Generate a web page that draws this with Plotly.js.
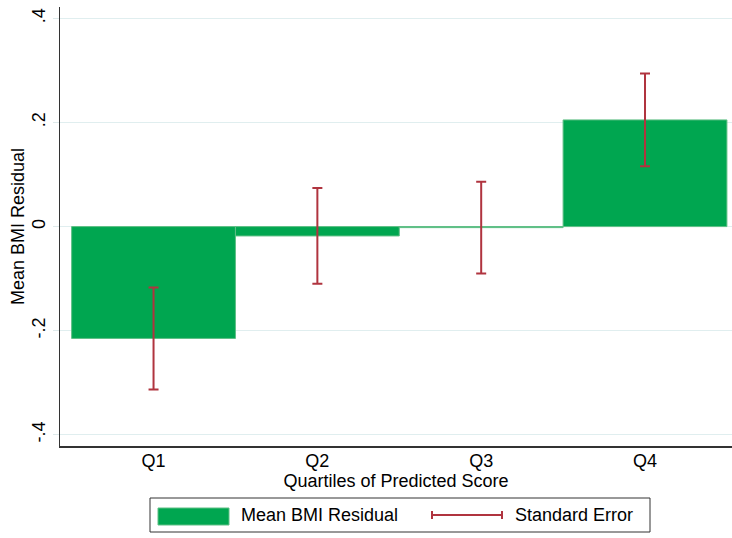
<!DOCTYPE html>
<html>
<head>
<meta charset="utf-8">
<script src="https://cdn.plot.ly/plotly-3.0.1.min.js"></script>
<style>html,body{margin:0;padding:0;background:#fff;}#chart{width:732px;height:538px;}</style>
</head>
<body>
<div id="chart"></div>
<script>
// Data
const categories = [1, 2, 3, 4];
const categoryLabels = ["Q1", "Q2", "Q3", "Q4"];
const meanResidual = [-0.215, -0.018, -0.002, 0.205];
const standardError = [0.098, 0.092, 0.088, 0.089];
const yTickValues = [-0.4, -0.2, 0, 0.2, 0.4];
const yTickLabels = ["-.4", "-.2", "0", ".2", ".4"];

const FONT = "Liberation Sans, Arial, sans-serif";
const FS = 18;
const GREEN = "#00a650";
const RED = "#b0343f";
const W = 732, H = 538;
const mL = 60, mR = 0, mT = 7, mB = 92;
const pw = W - mL - mR, ph = H - mT - mB;
const px = x => (x - mL) / pw;
const py = y => (H - mB - y) / ph;

const bars = {
  type: "bar",
  x: categories,
  y: meanResidual,
  width: 1,
  marker: { color: GREEN, line: { color: "#5fbf85", width: 1 } },
  showlegend: false,
  hoverinfo: "y"
};

const errs = {
  type: "scatter",
  mode: "markers",
  x: categories,
  y: meanResidual,
  marker: { size: 1, opacity: 0 },
  error_y: { type: "data", array: standardError, visible: true, color: RED, thickness: 2, width: 5 },
  showlegend: false,
  hoverinfo: "none"
};

// Custom Stata-like legend
const lg = { x0: 150, x1: 650, y0: 498, y1: 532 };
const lc = (lg.y0 + lg.y1) / 2;
const shapes = [
  { type: "rect", xref: "paper", yref: "paper", x0: px(lg.x0), x1: px(lg.x1), y0: py(lg.y1), y1: py(lg.y0),
    line: { color: "#333", width: 1 }, fillcolor: "rgba(0,0,0,0)" },
  { type: "rect", xref: "paper", yref: "paper", x0: px(158), x1: px(229), y0: py(525), y1: py(508),
    line: { color: "#5fbf85", width: 1 }, fillcolor: GREEN },
  { type: "line", xref: "paper", yref: "paper", x0: px(432), x1: px(502), y0: py(lc), y1: py(lc),
    line: { color: RED, width: 2 } },
  { type: "line", xref: "paper", yref: "paper", x0: px(432), x1: px(432), y0: py(lc - 4), y1: py(lc + 4),
    line: { color: RED, width: 2 } },
  { type: "line", xref: "paper", yref: "paper", x0: px(502), x1: px(502), y0: py(lc - 4), y1: py(lc + 4),
    line: { color: RED, width: 2 } }
];
const annotations = [
  { xref: "paper", yref: "paper", x: px(239), y: py(lc), xanchor: "left", yanchor: "middle", showarrow: false,
    text: "Mean BMI Residual", font: { family: FONT, size: FS, color: "#000" } },
  { xref: "paper", yref: "paper", x: px(513), y: py(lc), xanchor: "left", yanchor: "middle", showarrow: false,
    text: "Standard Error", font: { family: FONT, size: FS, color: "#000" } }
];

const layout = {
  width: W, height: H,
  margin: { l: mL, r: mR, t: mT, b: mB, pad: 0 },
  paper_bgcolor: "#fff", plot_bgcolor: "#fff",
  font: { family: FONT, size: FS, color: "#000" },
  bargap: 0,
  xaxis: {
    range: [0.429, 4.531],
    tickvals: categories, ticktext: categoryLabels,
    showgrid: false, zeroline: false,
    showline: true, linecolor: "#333", linewidth: 1.5,
    ticks: "", ticklabelstandoff: -2,
    tickfont: { family: FONT, size: FS, color: "#000" },
    title: { text: "Quartiles of Predicted Score", standoff: 0, font: { family: FONT, size: FS, color: "#000" } },
    fixedrange: true
  },
  yaxis: {
    range: [-0.4217, 0.422],
    tickvals: yTickValues, ticktext: yTickLabels,
    tickangle: -90,
    showgrid: true, gridcolor: "#e0eeef", gridwidth: 1.5,
    zeroline: false,
    showline: true, linecolor: "#333", linewidth: 1.5,
    ticks: "outside", ticklen: 6, tickcolor: "#dde9ea", tickwidth: 1.5,
    tickfont: { family: FONT, size: FS, color: "#000" },
    title: { text: "Mean BMI Residual", standoff: 0, font: { family: FONT, size: FS, color: "#000" } },
    fixedrange: true
  },
  shapes: shapes,
  annotations: annotations
};

Plotly.newPlot("chart", [bars, errs], layout, { displayModeBar: false, staticPlot: true });
</script>
</body>
</html>
